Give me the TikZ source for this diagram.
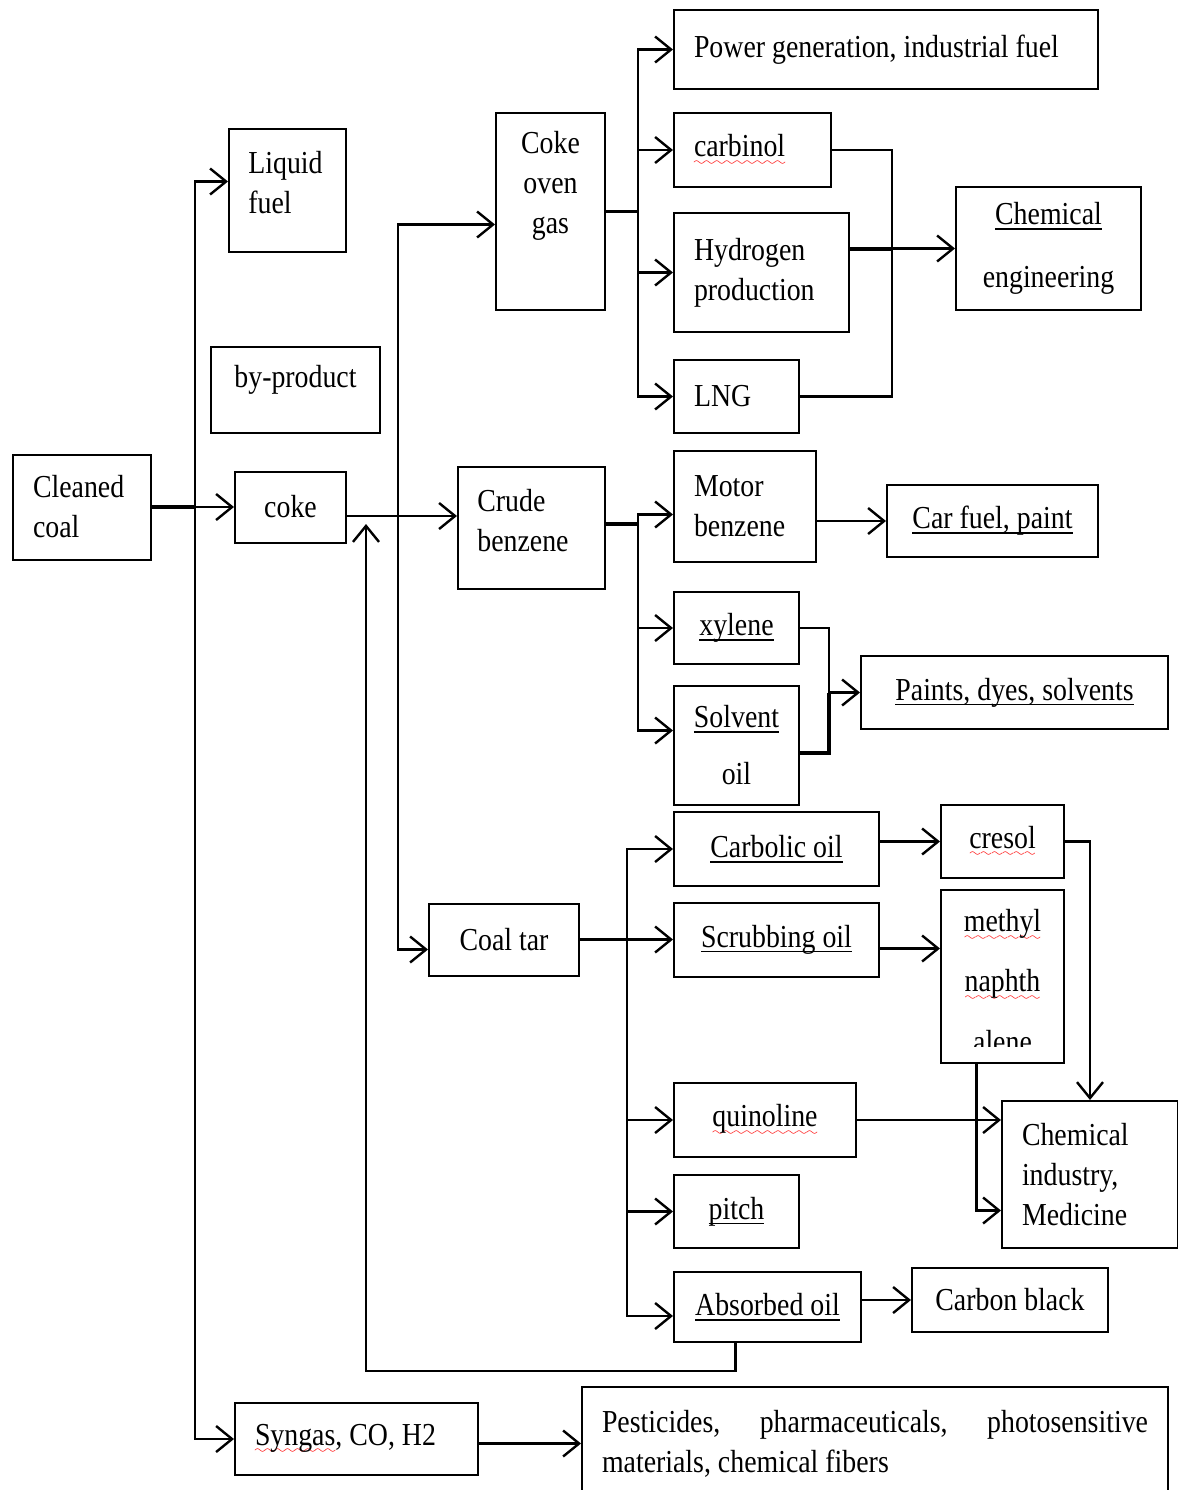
\documentclass[tikz,border=0pt]{standalone}
\usepackage{fontspec}
\setmainfont{Liberation Serif}[FakeStretch=0.87]
\usetikzlibrary{arrows.meta}
\newcommand{\fs}{\fontsize{16pt}{20pt}\selectfont}
\newsavebox{\ulbox}
\font\sixly=lasy6
\newcommand{\ul}[1]{\sbox\ulbox{#1}\rlap{\rule[-2.6pt]{\wd\ulbox}{0.9pt}}\usebox\ulbox}
\newcommand{\redwave}[1]{\sbox\ulbox{#1}\rlap{\textcolor{red}{\lower4.2pt\hbox to\wd\ulbox{\xleaders\hbox{\sixly\char58}\hfil}}}\usebox\ulbox}
\hyphenpenalty=10000
\tikzset{
  box/.style={draw, line width=1pt, inner sep=0pt, align=center, font=\fs},
  lbox/.style={box, align=flush left, inner xsep=10pt},
  wh/.style 2 args={minimum width=#1, minimum height=#2},
  txt/.style={inner sep=0pt, align=center, font=\fs},
  link/.style={line width=1.2pt},
  arr/.style={link, -{Straight Barb[length=8pt,width=13pt]}}
}

\begin{document}
\begin{tikzpicture}[x=0.5pt, y=-0.5pt]
  \useasboundingbox (0,0) rectangle (1178,1490);

  \node[lbox, text width=49pt, minimum height=52.5pt] (cc) at (82,507) {Cleaned\\coal};
  \node[box, wh={58.5pt}{61.5pt}] (lf) at (287.5,190.5) {};
  \node[txt, align=left, anchor=west] (lf-t) at (248,183) {Liquid\\fuel};
  \node[box, wh={84.5pt}{43pt}] (bp) at (295.5,390) {};
  \node[txt] (bp-t) at (295.5,380) {by-product};
  \node[box, wh={55.5pt}{35.5pt}] (coke) at (290.5,507) {coke};
  \node[box, wh={54.5pt}{98.5pt}] (cog) at (550.5,211.5) {};
  \node[txt] (cog-t) at (550.5,186) {Coke\\oven\\gas};
  \node[lbox, text width=192pt, minimum height=39.5pt] (pow) at (886,49.5) {\mbox{Power generation, industrial fuel}};
  \node[lbox, text width=58.5pt, minimum height=37pt] (carb) at (752.5,150) {\redwave{carbinol}};
  \node[lbox, text width=67.5pt, minimum height=59.5pt] (hyd) at (761.5,272.5) {Hydrogen\\production};
  \node[lbox, text width=42.5pt, minimum height=36.5pt] (lng) at (736.5,396.5) {LNG};
  \node[box, wh={92.5pt}{61.5pt}] (cheme) at (1048.5,248.5) {\ul{Chemical}\\[11.5pt]engineering};
  \node[box, wh={73.5pt}{61pt}] (cb) at (531.5,528) {};
  \node[txt, align=left, anchor=west] (cb-t) at (477,520.5) {Crude\\benzene};
  \node[lbox, text width=51pt, minimum height=55.5pt] (mb) at (745,506.5) {Motor\\benzene};
  \node[box, wh={105.5pt}{36pt}] (car) at (992.5,521) {\ul{Car fuel, paint}};
  \node[box, wh={62.5pt}{36pt}] (xyl) at (736.5,628) {\ul{xylene}};
  \node[box, wh={62.5pt}{59.5pt}] (solv) at (736.5,745.5) {\ul{Solvent}\\[8.5pt]oil};
  \node[box, wh={153.5pt}{36.5pt}] (paint) at (1014.5,692.5) {\ul{Paints, dyes, solvents}};
  \node[box, wh={102.5pt}{37pt}] (carbo) at (776.5,849) {\ul{Carbolic oil}};
  \node[box, wh={61.5pt}{36.5pt}] (cres) at (1002.5,841.5) {\redwave{cresol}};
  \node[box, wh={75pt}{36pt}] (tar) at (504,939.5) {Coal tar};
  \node[box, wh={102.5pt}{37pt}] (scrub) at (776.5,939.5) {\ul{Scrubbing oil}};
  \node[box, wh={61.5pt}{86.5pt}] (meth) at (1002.5,976.5) {};
  \node[txt] (meth-t) at (1002.5,955) {\redwave{methyl}\\[10pt]\redwave{naphth}};
  \begin{scope}
    \clip (meth.north west) rectangle ([yshift=9pt]meth.south east);
    \node[txt, anchor=base] (meth-c) at (1002.5,1052) {alene};
  \end{scope}
  \node[box, wh={91pt}{37pt}] (quin) at (765,1120) {\redwave{quinoline}};
  \node[box, wh={62.5pt}{36.5pt}] (pitch) at (736.5,1211.5) {\ul{pitch}};
  \node[lbox, text width=68pt, minimum height=73.5pt] (chem) at (1090,1174.5) {Chemical\\industry,\\Medicine};
  \node[box, wh={93.5pt}{35pt}] (abs) at (767.5,1307) {\ul{Absorbed oil}};
  \node[box, wh={98pt}{32pt}] (black) at (1010,1300) {Carbon black};
  \node[lbox, text width=101.5pt, minimum height=36pt] (syn) at (356.5,1439) {\mbox{\redwave{Syngas}, CO, H2}};
  \node[lbox, text width=273pt, minimum height=56.5pt] (pest) at (875,1443.5) {Pesticides,\hfill pharmaceuticals,\hfill photosensitive\\materials, chemical fibers};

  \coordinate (a1) at (195,507);
  \coordinate (b1) at (398,516);
  \coordinate (c1) at (638,211.5);
  \coordinate (c2) at (892,248.5);
  \coordinate (c3) at (638,524);
  \coordinate (c4) at (829,692.5);
  \coordinate (c5) at (627,939.5);
  \coordinate (f1) at (366,1371);

  \draw[link, line width=2.4pt] (cc.east) -- (a1);
  \draw[arr] (a1) -- (coke.west);
  \draw[arr] (a1) |- ([yshift=4.5pt]lf.west);
  \draw[arr] (a1) |- (syn.west);
  \draw[arr] (coke.east |- b1) -- (cb.west |- b1);
  \draw[arr] (b1) |- ([yshift=-6.5pt]cog.west);
  \draw[arr] (b1) |- ([yshift=-5pt]tar.west);
  \draw[arr, shorten >=4pt] ([xshift=-16pt]abs.south) |- (f1) -- (f1 |- b1);

  \draw[link] (cog.east) -- (c1);
  \draw[arr] (c1) |- (pow.west);
  \draw[arr] (c1) |- (carb.west);
  \draw[arr] (c1) |- (hyd.west);
  \draw[arr] (c1) |- (lng.west);
  \draw[link] (carb.east) -| (c2);
  \draw[link] (lng.east) -| (c2);
  \draw[link, line width=2pt] (hyd.east |- c2) -- (c2);
  \draw[arr] (c2) -- (cheme.west);

  \draw[link, line width=2pt] (cb.east |- c3) -- (c3);
  \draw[arr] (c3) |- ([yshift=-4pt]mb.west);
  \draw[arr] (c3) |- (xyl.west);
  \draw[arr] (c3) |- ([yshift=7.5pt]solv.west);
  \draw[arr] (mb.east |- car.west) -- (car.west);
  \draw[link] (xyl.east) -| (c4);
  \draw[link, line width=2pt] ([yshift=-3.5pt]solv.east) -| (c4);
  \draw[arr] (c4) -- (paint.west);

  \draw[arr] (tar.east) -- (scrub.west);
  \draw[arr] (c5) |- (carbo.west);
  \draw[arr] (c5) |- (quin.west);
  \draw[arr] (c5) |- (pitch.west);
  \draw[arr] (c5) |- ([yshift=-4.5pt]abs.west);
  \draw[arr] (carbo.east |- cres.west) -- (cres.west);
  \draw[arr] ([yshift=-4.5pt]scrub.east) -- ([yshift=-4.5pt]scrub.east -| meth.west);
  \draw[arr] (cres.east) -| (chem.north);
  \draw[arr] (quin.east) -- (quin.east -| chem.west);
  \draw[arr] ([xshift=-13pt]meth.south) |- ([yshift=-18pt]chem.west);
  \draw[arr] (abs.east |- black.west) -- (black.west);
  \draw[arr] (syn.east |- pest.west) -- (pest.west);
\end{tikzpicture}
\end{document}
